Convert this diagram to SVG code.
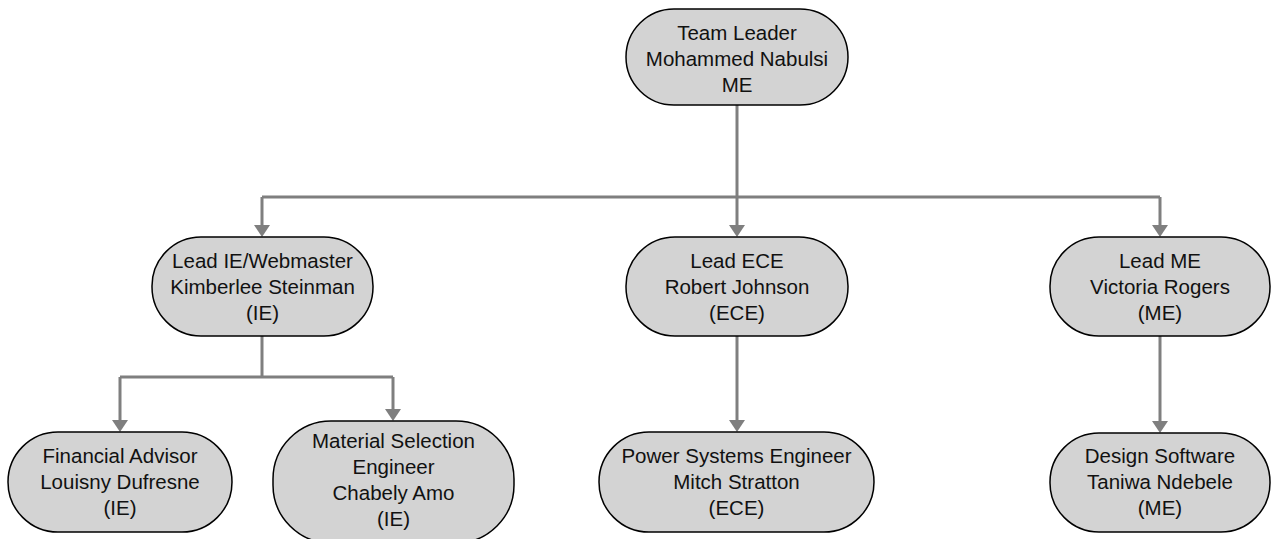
<svg xmlns="http://www.w3.org/2000/svg" width="1272" height="539" viewBox="0 0 1272 539">
<style>
.node{fill:#d3d3d3;stroke:#000;stroke-width:1.5}
.t{font-family:"Liberation Sans",Arial,sans-serif;font-size:20.5px;fill:#111;text-anchor:middle}
.c{fill:none;stroke:#7f7f7f;stroke-width:3}
</style>
<defs>
<marker id="ah" viewBox="0 0 12 16" refX="1" refY="8" markerWidth="12" markerHeight="16" markerUnits="userSpaceOnUse" orient="auto">
<path d="M0,0 L12,8 L0,16 z" fill="#7f7f7f"/>
</marker>
</defs>
<g id="connectors">
<path class="c" d="M737,105 V226" marker-end="url(#ah)"/>
<path class="c" d="M262,197 H1160"/>
<path class="c" d="M262,197 V226" marker-end="url(#ah)"/>
<path class="c" d="M1160,197 V226" marker-end="url(#ah)"/>
<path class="c" d="M262,336 V377"/>
<path class="c" d="M120,377 H393"/>
<path class="c" d="M120,377 V421" marker-end="url(#ah)"/>
<path class="c" d="M393,377 V410" marker-end="url(#ah)"/>
<path class="c" d="M737,336 V421" marker-end="url(#ah)"/>
<path class="c" d="M1160,336 V422" marker-end="url(#ah)"/>
</g>
<g id="team-leader">
<rect class="node" x="626" y="9" width="222" height="96" rx="48" ry="48"/>
<text class="t" x="737" y="40">Team Leader</text>
<text class="t" x="737" y="66">Mohammed Nabulsi</text>
<text class="t" x="737" y="92">ME</text>
</g>
<g id="lead-ie">
<rect class="node" x="152" y="237" width="221" height="99" rx="49" ry="49"/>
<text class="t" x="262.5" y="268">Lead IE/Webmaster</text>
<text class="t" x="262.5" y="294">Kimberlee Steinman</text>
<text class="t" x="262.5" y="320">(IE)</text>
</g>
<g id="lead-ece">
<rect class="node" x="626" y="237" width="222" height="99" rx="49" ry="49"/>
<text class="t" x="737" y="268">Lead ECE</text>
<text class="t" x="737" y="294">Robert Johnson</text>
<text class="t" x="737" y="320">(ECE)</text>
</g>
<g id="lead-me">
<rect class="node" x="1050" y="237" width="220" height="99" rx="49" ry="49"/>
<text class="t" x="1160" y="268">Lead ME</text>
<text class="t" x="1160" y="294">Victoria Rogers</text>
<text class="t" x="1160" y="320">(ME)</text>
</g>
<g id="financial-advisor">
<rect class="node" x="8" y="432" width="224" height="100" rx="50" ry="50"/>
<text class="t" x="120" y="463">Financial Advisor</text>
<text class="t" x="120" y="489">Louisny Dufresne</text>
<text class="t" x="120" y="515">(IE)</text>
</g>
<g id="material-selection">
<rect class="node" x="273" y="421" width="241" height="122" rx="58" ry="58"/>
<text class="t" x="393.5" y="448">Material Selection</text>
<text class="t" x="393.5" y="474">Engineer</text>
<text class="t" x="393.5" y="500">Chabely Amo</text>
<text class="t" x="393.5" y="526">(IE)</text>
</g>
<g id="power-systems">
<rect class="node" x="599" y="432" width="275" height="100" rx="50" ry="50"/>
<text class="t" x="736.5" y="463">Power Systems Engineer</text>
<text class="t" x="736.5" y="489">Mitch Stratton</text>
<text class="t" x="736.5" y="515">(ECE)</text>
</g>
<g id="design-software">
<rect class="node" x="1050" y="433" width="220" height="99" rx="49" ry="49"/>
<text class="t" x="1160" y="463">Design Software</text>
<text class="t" x="1160" y="489">Taniwa Ndebele</text>
<text class="t" x="1160" y="515">(ME)</text>
</g>
</svg>
